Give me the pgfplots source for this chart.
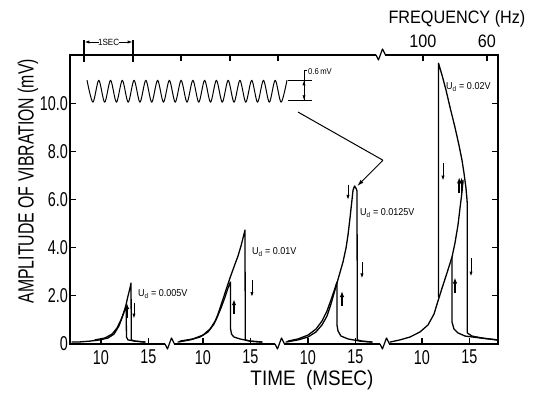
\documentclass[border=0pt]{standalone}
\usepackage{fontspec}
\setmainfont[FakeStretch=0.72]{Liberation Sans}
\newfontfamily\wide[FakeStretch=0.9]{Liberation Sans}
\usepackage{pgfplots}
\pgfplotsset{compat=1.18}
\usetikzlibrary{arrows.meta}
\pgfplotsset{curve/.style={black, solid, line width=1.3pt, mark=none, line join=round, line cap=round}}
\begin{document}
\begin{tikzpicture}[ar/.style={-{Latex[length=5pt,width=3.2pt]},line width=0.9pt},
  tar/.style={-{Latex[length=6pt,width=4.5pt]},line width=1.6pt},
  ann/.style={font=\wide\fontsize{10}{12}\selectfont,anchor=west,inner sep=0pt}]
\begin{axis}[
  scale only axis, width=428pt, height=289pt,
  xmin=6.737, xmax=51.79, ymin=0, ymax=12,
  clip=false,
  axis line style={line width=1.4pt},
  xtick={10,15,20.737,25.737,31.789,36.789,43.789,48.789},
  xticklabels={10,15,10,15,10,15,10,15},
  xtick pos=bottom,
  ytick={0,2,4,6,8,10},
  yticklabels={0,2.0,4.0,6.0,8.0,10.0},
  ytick pos=both, yticklabel pos=left,
  tick align=inside,
  major tick length=6pt,
  tick style={line width=1.2pt, black},
  /pgf/number format/assume math mode=true,
  ticklabel style={font=\fontsize{20}{22}\selectfont, inner sep=0pt},
  xticklabel shift=6pt,
  yticklabel shift=2pt,
]
% ---- panel 1 (U_d = 0.005 V)
\addplot[curve] table[x expr=\thisrow{t}, y=A]{
t A
6.95 0.08
7.58 0.08
8.84 0.12
9.89 0.17
10.74 0.25
11.37 0.41
11.89 0.75
12.32 1.20
12.63 1.62
12.84 1.99
13.05 2.32
13.16 2.53
13.19 0.17
13.58 0.12
14.63 0.08
};
\addplot[curve] table[x expr=\thisrow{t}, y=A]{
t A
14.63 0.08
13.58 0.12
12.84 0.17
12.68 0.29
12.65 1.54
12.42 1.33
12.10 1.00
11.68 0.66
11.16 0.41
10.42 0.25
9.37 0.17
};
% ---- panel 2 (U_d = 0.01 V)
\addplot[curve] table[x expr=\thisrow{t}+10.737, y=A]{
t A
7.37 0.08
8.63 0.17
9.68 0.29
10.53 0.50
11.16 0.83
11.58 1.24
12.00 1.74
12.42 2.24
12.84 2.74
13.26 3.20
13.68 3.65
14.00 4.07
14.21 4.40
14.42 4.73
14.45 0.17
14.95 0.12
16.21 0.08
};
\addplot[curve] table[x expr=\thisrow{t}+10.737, y=A]{
t A
16.21 0.08
14.95 0.12
13.89 0.21
13.26 0.29
13.00 0.41
12.89 0.66
12.89 2.57
12.63 2.32
12.32 1.95
11.89 1.49
11.37 1.00
10.74 0.62
10.00 0.37
8.95 0.21
7.58 0.12
};
% ---- panel 3 (U_d = 0.0125 V)
\addplot[curve] table[x expr=\thisrow{t}+21.789, y=A]{
t A
7.68 0.08
8.95 0.17
10.00 0.29
10.84 0.50
11.47 0.79
12.00 1.16
12.42 1.66
12.84 2.24
13.26 2.82
13.68 3.40
14.00 3.98
14.21 4.52
14.42 5.23
14.63 5.98
14.74 6.39
14.90 6.56
15.05 6.47
15.16 6.35
15.19 0.17
15.68 0.12
16.74 0.08
};
\addplot[curve] table[x expr=\thisrow{t}+21.789, y=A]{
t A
16.74 0.08
15.47 0.12
14.21 0.21
13.47 0.33
13.16 0.54
13.05 0.79
13.05 2.57
12.74 2.20
12.42 1.83
12.00 1.37
11.47 0.95
10.84 0.62
10.00 0.37
8.95 0.21
7.89 0.12
};
% ---- panel 4 (U_d = 0.02 V)
\addplot[curve] table[x expr=\thisrow{t}+33.789, y=A]{
t A
6.63 0.08
7.68 0.17
8.74 0.29
9.79 0.50
10.63 0.79
11.26 1.24
11.68 1.78
12.11 2.32
12.63 2.95
13.16 3.61
13.47 4.19
13.79 4.94
14.00 5.64
14.21 6.31
14.32 6.80
};
\addplot[curve] table[x expr=\thisrow{t}+33.789, y=A]{
t A
11.74 1.95
11.74 11.66
12.11 11.16
12.53 10.54
12.95 9.83
13.47 9.00
13.89 8.26
14.21 7.63
14.42 7.10
14.63 6.47
14.74 5.98
14.77 5.77
14.77 0.46
15.26 0.33
16.32 0.25
17.89 0.17
};
\addplot[curve] table[x expr=\thisrow{t}+33.789, y=A]{
t A
13.16 3.61
13.16 0.91
13.37 0.62
13.79 0.46
14.53 0.33
16.11 0.25
17.89 0.17
};
% ---- inset waveform (crests and troughs)
\addplot[curve, smooth, line width=1pt] table[x=x, y=y]{
x y
8.530 10.95
9.149 10.04
9.768 10.95
10.387 10.04
11.006 10.95
11.625 10.04
12.244 10.95
12.863 10.04
13.482 10.95
14.101 10.04
14.720 10.95
15.339 10.04
15.958 10.95
16.577 10.04
17.196 10.95
17.815 10.04
18.434 10.95
19.053 10.04
19.672 10.95
20.291 10.04
20.910 10.95
21.529 10.04
22.148 10.95
22.767 10.04
23.386 10.95
24.005 10.04
24.624 10.95
25.243 10.04
25.862 10.95
26.481 10.04
27.100 10.95
27.719 10.04
28.338 10.95
28.957 10.04
29.576 10.95
};
% ---- scale bar 0.6 mV
\draw[line width=0.9pt] (axis cs:29.68,10.95) -- (axis cs:32.21,10.95);
\draw[line width=0.9pt] (axis cs:29.68,10.12) -- (axis cs:32.21,10.12);
\draw[line width=0.9pt] (axis cs:31.37,10.12) -- (axis cs:31.37,11.37) -- (axis cs:31.70,11.37);
\draw[ar] (axis cs:31.37,10.55) -- (axis cs:31.37,10.95);
\draw[ar] (axis cs:31.37,10.50) -- (axis cs:31.37,10.12);
\node[font=\wide\fontsize{8.5}{9}\selectfont,anchor=west,inner sep=0pt] at (axis cs:31.79,11.33) {0.6\,mV};
% ---- pointer line
\draw[line width=1pt] (axis cs:30.74,9.63) -- (axis cs:39.68,7.63);
\draw[-{Latex[length=7pt,width=4pt]},line width=1pt] (axis cs:39.68,7.63) -- (axis cs:36.95,6.55);
% ---- top ticks
\draw[line width=1.2pt] (axis cs:8.21,12) -- ([yshift=-6pt]axis cs:8.21,12);
\draw[line width=1.2pt] (axis cs:13.37,12) -- ([yshift=-6pt]axis cs:13.37,12);
\draw[line width=1.2pt] (axis cs:18.42,12) -- ([yshift=-6pt]axis cs:18.42,12);
\draw[line width=1.2pt] (axis cs:23.58,12) -- ([yshift=-6pt]axis cs:23.58,12);
\draw[line width=1.2pt] (axis cs:28.63,12) -- ([yshift=-6pt]axis cs:28.63,12);
\draw[line width=1.2pt] (axis cs:43.89,12) -- ([yshift=-6pt]axis cs:43.89,12);
\draw[line width=1.2pt] (axis cs:50.63,12) -- ([yshift=-6pt]axis cs:50.63,12);
% ---- 1 SEC bracket
\draw[line width=1.1pt] ([yshift=15pt]axis cs:8.21,12) -- ([yshift=-7pt]axis cs:8.21,12);
\draw[line width=1.1pt] ([yshift=15pt]axis cs:13.37,12) -- ([yshift=-7pt]axis cs:13.37,12);
\draw[ar] ([yshift=13pt]axis cs:9.75,12) -- ([yshift=13pt]axis cs:8.25,12);
\draw[ar] ([yshift=13pt]axis cs:11.85,12) -- ([yshift=13pt]axis cs:13.33,12);
\node[font=\wide\fontsize{9}{10}\selectfont,inner sep=0pt] at ([yshift=13pt]axis cs:10.8,12) {1SEC};
\node[font=\wide\fontsize{18}{20}\selectfont] at ([yshift=14pt]axis cs:43.89,12) {100};
\node[font=\wide\fontsize{18}{20}\selectfont] at ([yshift=14pt]axis cs:50.63,12) {60};
\node[font=\wide\fontsize{18}{20}\selectfont] at ([yshift=36pt]axis cs:47.47,12) {FREQUENCY (Hz)};
\node[font=\wide\fontsize{21}{23}\selectfont] at ([yshift=-36pt]axis cs:32.2,0) {TIME\ \ (MSEC)};
\node[font=\fontsize{22}{24}\selectfont,rotate=90] at ([xshift=-42pt]axis cs:6.737,6.76) {AMPLITUDE OF VIBRATION (mV)};
% ---- arrows on curves
\draw[tar] (axis cs:12.74,1.08) -- (axis cs:12.74,1.70);
\draw[ar] (axis cs:13.47,1.72) -- (axis cs:13.47,1.05);
\draw[ar] (axis cs:25.89,2.66) -- (axis cs:25.89,1.95);
\draw[tar] (axis cs:24.00,1.24) -- (axis cs:24.00,1.86);
\draw[ar] (axis cs:36.00,6.62) -- (axis cs:36.00,5.98);
\draw[ar] (axis cs:37.47,3.40) -- (axis cs:37.47,2.72);
\draw[tar] (axis cs:35.37,1.58) -- (axis cs:35.37,2.20);
\draw[ar] (axis cs:46.00,7.51) -- (axis cs:46.00,6.78);
\draw[tar] (axis cs:47.70,6.25) -- (axis cs:47.70,6.92);
\draw[tar] (axis cs:47.95,6.25) -- (axis cs:47.95,6.92);
\draw[ar] (axis cs:48.95,3.57) -- (axis cs:48.95,2.80);
\draw[tar] (axis cs:47.26,2.12) -- (axis cs:47.26,2.76);
% ---- labels
\node[ann] at (axis cs:13.89,2.07) {U\textsubscript{d} = 0.005V};
\node[ann] at (axis cs:25.89,3.82) {U\textsubscript{d} = 0.01V};
\node[ann] at (axis cs:37.26,5.44) {U\textsubscript{d} = 0.0125V};
\node[ann] at (axis cs:46.32,10.66) {U\textsubscript{d} = 0.02V};
% ---- coordinates for breaks and bounding box
\coordinate (b1) at (axis cs:17.26,0);
\coordinate (b2) at (axis cs:28.84,0);
\coordinate (b3) at (axis cs:39.89,0);
\coordinate (tb) at (axis cs:39.47,12);
\coordinate (SW) at (rel axis cs:0,0);
\coordinate (NE) at (rel axis cs:1,1);
\end{axis}
\foreach \c in {b1,b2,b3,tb}{
  \fill[white] ([xshift=-4.5pt,yshift=-1.8pt]\c) rectangle ([xshift=4.5pt,yshift=1.8pt]\c);
  \draw[line width=1.2pt,line join=round] ([xshift=-5pt]\c) -- ([xshift=-2.5pt,yshift=-5pt]\c) -- ([xshift=1.5pt,yshift=6pt]\c) -- ([xshift=4.5pt]\c) -- ([xshift=5pt]\c);
}
\pgfresetboundingbox
\path ([xshift=-70pt,yshift=-49pt]SW) rectangle ([xshift=37pt,yshift=55pt]NE);
\end{tikzpicture}
\end{document}
